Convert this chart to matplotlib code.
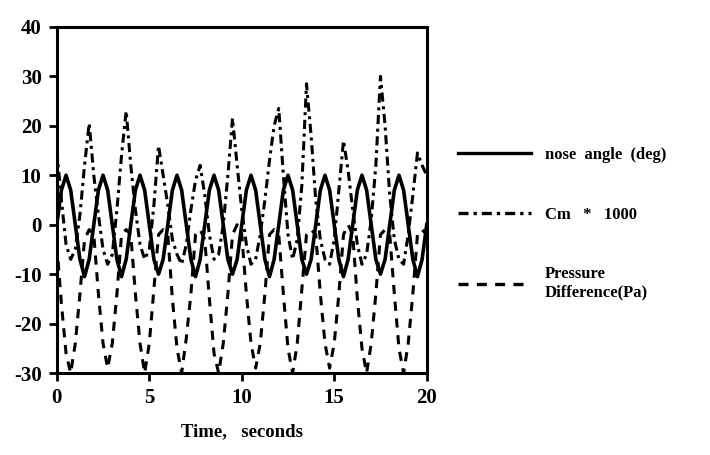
import numpy as np
import matplotlib
matplotlib.use('Agg')
import matplotlib.pyplot as plt

plt.rcParams['font.family'] = ['Liberation Serif', 'DejaVu Serif']
plt.rcParams['axes.unicode_minus'] = False

# samples every 0.25 s over the 20 s run
t = np.arange(0, 20.01, 0.25)

nose_angle = [
    0, 7, 10, 7, 0, -7, -10.5, -7,
    0, 7, 10, 7, 0, -7, -10.5, -7,
    0, 7, 10, 7, 0, -7, -10, -7,
    0, 7, 10, 7, 0, -7, -10.5, -7,
    0, 7, 10, 7, 0, -7, -10, -7,
    0, 7, 10, 7, 0, -7, -10.5, -7,
    0, 7, 10, 7, 0, -7, -10, -7,
    0, 7, 10, 7, 0, -7, -10.5, -7,
    0, 7, 10, 7, 0, -7, -10, -7,
    0, 7, 10, 7, 0, -7, -10.5, -7,
    0,
]

cm_x1000 = [
    15, 5, -4, -7, -5, 2, 12, 20.5,
    10, 2, -5, -8, -6, 3, 14, 23,
    12, 3, -4, -7, -5, 4, 16, 10,
    4, -3, -6, -8, -4, 3, 9, 12,
    6, -2, -7, -6, 0, 10, 21.5, 12,
    3, -4, -8, -7, -2, 5, 13, 20,
    23.5, 10, -2, -7, -3, 8, 28.5, 18,
    5, -3, -7, -8, -3, 7, 17, 11,
    3, -4, -8, -6, 1, 12, 30, 20,
    6, -3, -7, -8, -2, 6, 14.5, 12,
    10,
]

pressure_diff = [
    -4, -16, -26, -30, -24, -14, -3, -1,
    -2, -14, -24, -29, -24, -14, -2, -1,
    -2, -14, -24, -30, -24, -13, -2, -1,
    -2, -15, -25, -30, -23, -14, -2, -1,
    -3, -15, -26, -30, -24, -14, -2, 0,
    -2, -14, -24, -29, -24, -14, -2, -1,
    -2, -14, -25, -30, -24, -13, -2, -1,
    -2, -14, -24, -29, -24, -14, -2, 0,
    -2, -15, -25, -30, -24, -14, -2, -1,
    -2, -14, -25, -30, -24, -14, -2, -1,
    -2,
]

fig = plt.figure(figsize=(7.1, 4.55), dpi=100)
ax = fig.add_axes([0.080, 0.180, 0.521, 0.761])

ax.plot(t, nose_angle, color='black', lw=2.6, label='nose  angle  (deg)')
ax.plot(t, cm_x1000, color='black', lw=2.2, ls=(0, (3, 1.5, 1, 1.5)),
        label='Cm   *   1000')
ax.plot(t, pressure_diff, color='black', lw=2.2, ls=(0, (3, 2.5)),
        label='Pressure\nDifference(Pa)')

ax.set_xlim(0, 20)
ax.set_ylim(-30, 40)
ax.set_xticks([0, 5, 10, 15, 20])
ax.set_yticks(range(-30, 41, 10))
ax.tick_params(direction='out', length=6, width=2, pad=5, labelsize=15)
for lab in ax.get_xticklabels() + ax.get_yticklabels():
    lab.set_fontweight('bold')
for sp in ax.spines.values():
    sp.set_linewidth(2.2)

ax.set_xlabel('Time,   seconds', fontsize=13.5, fontweight='bold', labelpad=11)

leg = ax.legend(loc='upper left', bbox_to_anchor=(0.645, 0.677),
                bbox_transform=fig.transFigure, frameon=False,
                handlelength=4.4, handletextpad=0.8, labelspacing=2.62,
                borderpad=0, borderaxespad=0,
                prop={'size': 12, 'weight': 'bold'})
for line in leg.get_lines():
    line.set_linewidth(2.4)

fig.savefig('out.png', dpi=100)
